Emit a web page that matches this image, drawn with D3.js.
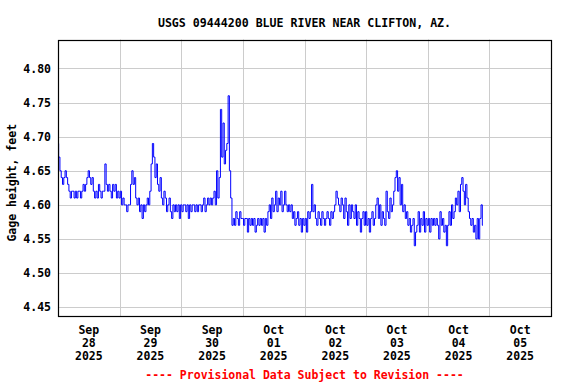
<!DOCTYPE html>
<html>
<head>
<meta charset="utf-8">
<script src="https://cdn.jsdelivr.net/npm/d3@7"></script>
<style>
  html, body { margin: 0; padding: 0; background: #fff; }
  svg { display: block; }
  text { font-family: "DejaVu Sans Mono", "Liberation Mono", monospace; font-weight: bold; }
</style>
</head>
<body>
<svg id="chart" width="576" height="384"></svg>
<script>
// ---- Data (gage height, feet; half-hourly readings starting each day at 00:00) ----
const titleText = "USGS 09444200 BLUE RIVER NEAR CLIFTON, AZ.";
const yLabel = "Gage height, feet";
const footnote = "---- Provisional Data Subject to Revision ----";

const seriesStart = new Date(2025, 8, 28, 0, 0);
const stepMinutes = 30;

const sep28 = [4.69,4.67,4.65,4.64, 4.63,4.64,4.65,4.64, 4.63,4.62,4.61,4.62, 4.62,4.61,4.62,4.61,
               4.62,4.62,4.61,4.62, 4.63,4.62,4.63,4.64, 4.65,4.64,4.63,4.64, 4.62,4.61,4.62,4.61,
               4.63,4.62,4.61,4.62, 4.62,4.66,4.63,4.62, 4.63,4.62,4.61,4.63, 4.62,4.63,4.61,4.62];
const sep29 = [4.61,4.62,4.60,4.61, 4.60,4.60,4.59,4.60, 4.60,4.63,4.65,4.63, 4.64,4.61,4.60,4.61,
               4.59,4.60,4.58,4.60, 4.59,4.60,4.61,4.60, 4.62,4.66,4.69,4.67, 4.64,4.66,4.63,4.62,
               4.64,4.61,4.60,4.62, 4.61,4.59,4.60,4.61, 4.59,4.58,4.60,4.59, 4.60,4.59,4.60,4.58];
const sep30 = [4.60,4.59,4.60,4.60, 4.59,4.60,4.58,4.60, 4.59,4.60,4.60,4.59, 4.60,4.59,4.60,4.60,
               4.59,4.60,4.61,4.59, 4.60,4.61,4.60,4.61, 4.60,4.61,4.62,4.60, 4.65,4.61,4.64,4.74,
               4.67,4.72,4.66,4.68, 4.69,4.76,4.65,4.61, 4.57,4.58,4.57,4.59, 4.58,4.57,4.59,4.58];
const oct01 = [4.58,4.57,4.58,4.58, 4.56,4.58,4.57,4.58, 4.57,4.58,4.56,4.57, 4.58,4.57,4.58,4.57,
               4.58,4.56,4.58,4.57, 4.59,4.60,4.58,4.61, 4.59,4.60,4.62,4.59, 4.61,4.60,4.62,4.59,
               4.60,4.62,4.60,4.59, 4.60,4.59,4.60,4.58, 4.59,4.57,4.58,4.59, 4.57,4.58,4.56,4.58];
const oct02 = [4.57,4.58,4.56,4.59, 4.58,4.59,4.63,4.59, 4.60,4.58,4.57,4.59, 4.58,4.57,4.59,4.58,
               4.57,4.58,4.59,4.58, 4.57,4.59,4.58,4.59, 4.60,4.62,4.61,4.60, 4.59,4.61,4.60,4.58,
               4.61,4.59,4.57,4.60, 4.58,4.60,4.59,4.58, 4.60,4.57,4.59,4.58, 4.56,4.58,4.59,4.57];
const oct03 = [4.59,4.57,4.58,4.56, 4.58,4.59,4.57,4.58, 4.60,4.61,4.58,4.60, 4.57,4.59,4.58,4.57,
               4.62,4.59,4.58,4.61, 4.59,4.60,4.62,4.64, 4.65,4.62,4.64,4.60, 4.63,4.59,4.60,4.58,
               4.59,4.57,4.58,4.56, 4.57,4.58,4.54,4.56, 4.57,4.59,4.56,4.58, 4.57,4.59,4.56,4.58];
const oct04 = [4.57,4.58,4.56,4.58, 4.57,4.58,4.57,4.58, 4.57,4.55,4.59,4.57, 4.58,4.56,4.57,4.54,
               4.57,4.59,4.57,4.60, 4.58,4.59,4.61,4.60, 4.62,4.59,4.63,4.64, 4.62,4.60,4.63,4.61,
               4.59,4.58,4.57,4.58, 4.56,4.57,4.55,4.58, 4.55,4.58,4.60,4.57];

const yTicks = [4.45, 4.50, 4.55, 4.60, 4.65, 4.70, 4.75, 4.80];
const xTickDays = [
  ["Sep","28","2025"],["Sep","29","2025"],["Sep","30","2025"],["Oct","01","2025"],
  ["Oct","02","2025"],["Oct","03","2025"],["Oct","04","2025"],["Oct","05","2025"]
];

// ---- Build series ----
const allValues = [].concat(sep28, sep29, sep30, oct01, oct02, oct03, oct04);
const series = allValues.map((v, i) => ({
  t: new Date(seriesStart.getTime() + i * stepMinutes * 60000),
  v: v
}));

// ---- Layout ----
const svg = d3.select("#chart");
const L = 58, R = 551, T = 39.5, B = 316;

const x = d3.scaleTime()
  .domain([new Date(2025, 8, 28, 0, 0), new Date(2025, 9, 6, 0, 0)])
  .range([L, R]);
const y = d3.scaleLinear()
  .domain([4.437, 4.8425])
  .range([B, T]);

// Grid
const dayBounds = d3.timeDay.range(new Date(2025, 8, 29), new Date(2025, 9, 6));
svg.append("g").selectAll("line").data(dayBounds).join("line")
  .attr("x1", d => Math.round(x(d)) + 0.5).attr("x2", d => Math.round(x(d)) + 0.5)
  .attr("y1", T).attr("y2", B)
  .attr("stroke", "#cccccc").attr("stroke-width", 1);
svg.append("g").selectAll("line").data(yTicks).join("line")
  .attr("x1", L).attr("x2", R)
  .attr("y1", d => Math.round(y(d)) + 0.5).attr("y2", d => Math.round(y(d)) + 0.5)
  .attr("stroke", "#cccccc").attr("stroke-width", 1);

// Data line
const line = d3.line()
  .x(d => x(d.t))
  .y(d => y(d.v))
  .curve(d3.curveStep);
svg.append("path")
  .datum(series)
  .attr("d", line)
  .attr("fill", "none")
  .attr("stroke", "#0000ff")
  .attr("stroke-width", 1);

// Border
svg.append("rect")
  .attr("x", L + 0.5).attr("y", Math.round(T) + 0.5)
  .attr("width", R - L).attr("height", B - Math.round(T))
  .attr("fill", "none").attr("stroke", "#000").attr("stroke-width", 1.2);

// Y tick labels
svg.append("g").selectAll("text").data(yTicks).join("text")
  .attr("x", 51).attr("y", d => y(d))
  .attr("dy", "0.36em")
  .attr("text-anchor", "end")
  .attr("font-size", "11.5px")
  .text(d => d.toFixed(2));

// X tick labels (centered at noon of each day)
const xg = svg.append("g");
xTickDays.forEach((lines, i) => {
  const noon = new Date(2025, 8, 28 + i, 12, 0);
  const t = xg.append("text")
    .attr("x", x(noon))
    .attr("text-anchor", "middle")
    .attr("font-size", "11.5px");
  lines.forEach((s, j) => {
    t.append("tspan").attr("x", x(noon)).attr("y", 334 + j * 12.8).text(s);
  });
});

// Title
svg.append("text")
  .attr("x", (L + R) / 2).attr("y", 27)
  .attr("text-anchor", "middle")
  .attr("font-size", "11.6px")
  .text(titleText);

// Y axis label
svg.append("text")
  .attr("transform", "translate(16," + ((T + B) / 2 + 5) + ") rotate(-90)")
  .attr("text-anchor", "middle")
  .attr("font-size", "11.5px")
  .text(yLabel);

// Footnote
svg.append("text")
  .attr("x", (L + R) / 2).attr("y", 379)
  .attr("text-anchor", "middle")
  .attr("font-size", "11.5px")
  .attr("fill", "#ff0000")
  .text(footnote);
</script>
</body>
</html>
